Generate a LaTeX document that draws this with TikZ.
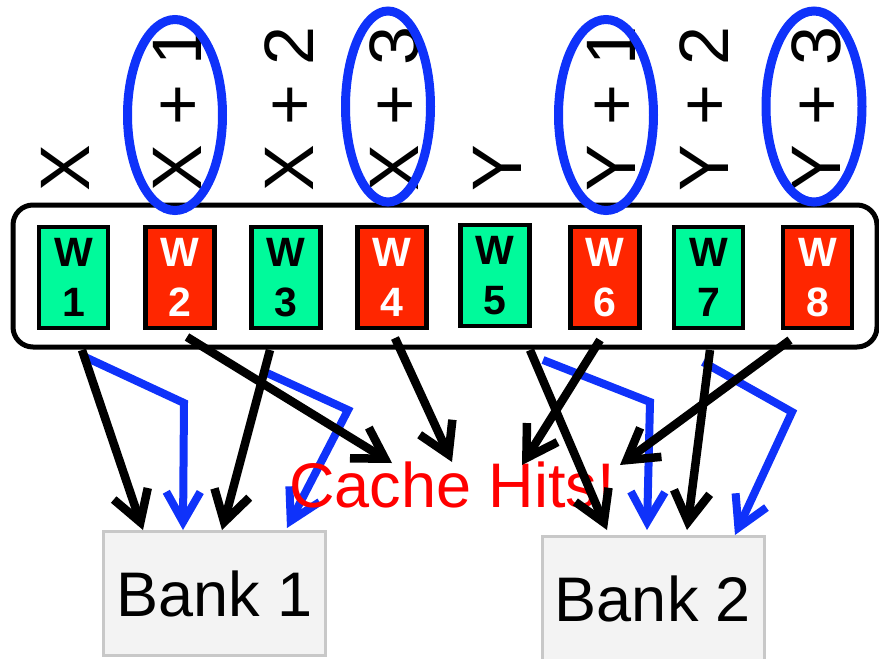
\documentclass[tikz,border=0pt]{standalone}
\usepackage{fontspec}
\setmainfont{Liberation Sans}
\usetikzlibrary{arrows.meta}
\definecolor{wgreen}{RGB}{0,250,155}
\definecolor{wred}{RGB}{255,38,0}
\definecolor{ublue}{RGB}{15,50,250}
\definecolor{bankfill}{RGB}{243,243,243}
\definecolor{bankdraw}{RGB}{200,200,200}
\begin{document}
\begin{tikzpicture}[x=1pt,y=-1pt,
  wbox/.style={draw=black,line width=4.5pt,minimum width=69pt,minimum height=101pt,inner sep=0pt,align=center,font=\fontsize{41}{50}\selectfont\bfseries},
  wg/.style={wbox,fill=wgreen,text=black},
  wr/.style={wbox,fill=wred,text=white},
  lbl/.style={rotate=90,anchor=base west,inner sep=0pt,font=\fontsize{70}{84}\selectfont},
  circ/.style={draw=ublue,line width=9pt},
  group/.style={draw=black,line width=5pt,rounded corners=20pt,minimum width=864pt,minimum height=142pt,inner sep=0pt},
  bank/.style={draw=bankdraw,fill=bankfill,line width=3pt,minimum width=222pt,minimum height=124pt,inner sep=0pt,font=\fontsize{63}{75}\selectfont},
  blk/.style={draw=black,line width=8.5pt,-{Straight Barb[length=30pt,width=36pt]}},
  blu/.style={draw=ublue,line width=8pt,-{Straight Barb[length=30pt,width=34pt]}},
  hits/.style={text=red,inner sep=0pt,font=\fontsize{63}{75}\selectfont}
]
\useasboundingbox (0,0) rectangle (879,659);

% container
\node[group] (grp) at (445,276) {};

% warps
\node[wg] (w1) at (73.5,277.5) {W\\1};
\node[wr] (w2) at (180,277.5) {W\\2};
\node[wg] (w3) at (286,277.5) {W\\3};
\node[wr] (w4) at (392,277.5) {W\\4};
\node[wg] (w5) at (495,275.5) {W\\5};
\node[wr] (w6) at (605,277.5) {W\\6};
\node[wg] (w7) at (708.5,277.5) {W\\7};
\node[wr] (w8) at (817.5,277.5) {W\\8};

% address labels
\node[lbl] (l1) at (89,192) {X};
\node[lbl] (l2) at (201,192) {X + 1};
\node[lbl] (l3) at (313,192) {X + 2};
\node[lbl] (l4) at (418,192) {X + 3};
\node[lbl] (l5) at (521,192) {Y};
\node[lbl] (l6) at (635,192) {Y + 1};
\node[lbl] (l7) at (728,192) {Y + 2};
\node[lbl] (l8) at (840,192) {Y + 3};

% highlight ellipses
\draw[circ] (175,115) ellipse [x radius=47.5pt, y radius=95.5pt];
\draw[circ] (388,106.5) ellipse [x radius=42.5pt, y radius=95.5pt];
\draw[circ] (606,115) ellipse [x radius=47.5pt, y radius=95.5pt];
\draw[circ] (814,106.5) ellipse [x radius=48pt, y radius=95.5pt];

% banks
\node[bank] (bank1) at (214.5,593.5) {Bank 1};
\node[bank] (bank2) at (653,598.5) {Bank 2};

% connector end points
\coordinate (s1) at (82,350);   \coordinate (t1) at (143,530);
\coordinate (s2) at (187,337);  \coordinate (t2) at (392,463);
\coordinate (s3) at (270,350);  \coordinate (t3) at (222,530);
\coordinate (s4) at (395,338);  \coordinate (t4) at (452,462);
\coordinate (s5) at (600,340);  \coordinate (t5) at (522,465);
\coordinate (s6) at (530,350);  \coordinate (t6) at (607,530);
\coordinate (s7) at (710,350);  \coordinate (t7) at (687,530);
\coordinate (s8) at (790,340);  \coordinate (t8) at (620,465);

\coordinate (u1) at (85,357);   \coordinate (c1) at (184,403);  \coordinate (v1) at (183,530);
\coordinate (u2) at (267,373);  \coordinate (c2) at (348,410);  \coordinate (v2) at (287,528);
\coordinate (u3) at (543,360);  \coordinate (c3) at (650,402);  \coordinate (v3) at (647,530);
\coordinate (u4) at (703,362);  \coordinate (c4) at (792,412);  \coordinate (v4) at (735,535);

% blue (coalesced) connectors
\draw[blu] (u1) -- (c1) -- (v1);
\draw[blu] (u2) -- (c2) -- (v2);
\draw[blu] (u3) -- (c3) -- (v3);
\draw[blu] (u4) -- (c4) -- (v4);

% label
\node[hits] (hits) at (452,485) {Cache Hits!};

% black connectors
\draw[blk] (s1) -- (t1);
\draw[blk] (s2) -- (t2);
\draw[blk] (s3) -- (t3);
\draw[blk] (s4) -- (t4);
\draw[blk] (s5) -- (t5);
\draw[blk] (s6) -- (t6);
\draw[blk] (s7) -- (t7);
\draw[blk] (s8) -- (t8);
\end{tikzpicture}
\end{document}
